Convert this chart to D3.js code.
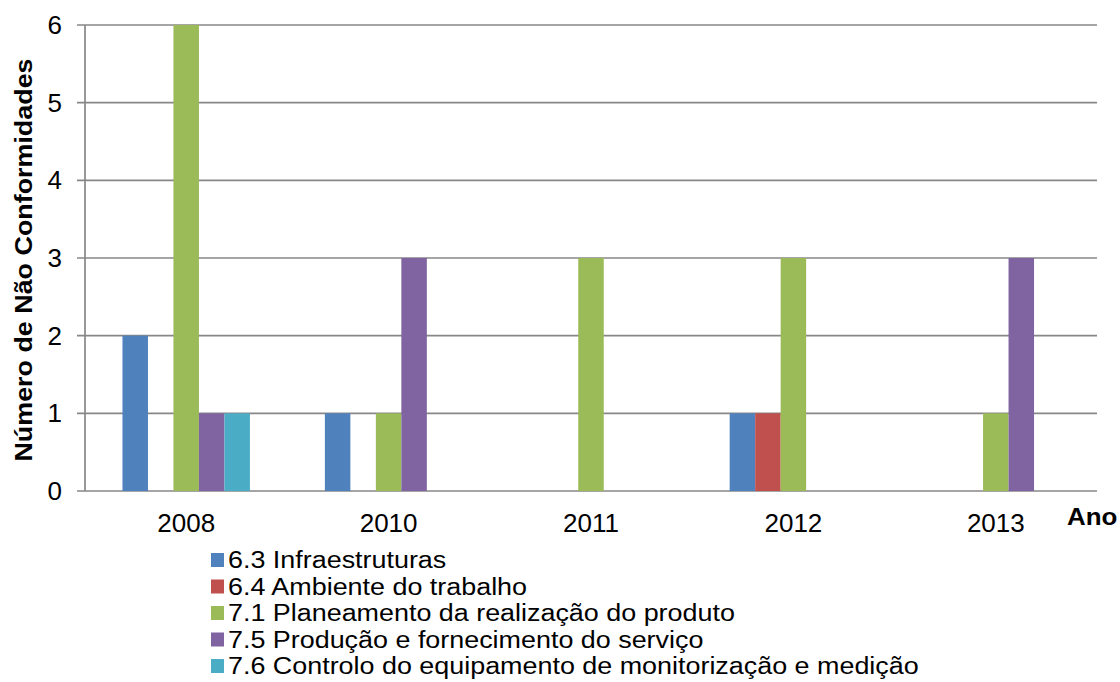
<!DOCTYPE html>
<html>
<head>
<meta charset="utf-8">
<script src="https://cdn.jsdelivr.net/npm/d3@7"></script>
<style>
  body { margin: 0; background: #fff; }
</style>
</head>
<body>
<div id="chart"></div>
<script>
// data
var years = ["2008", "2010", "2011", "2012", "2013"];
var seriesNames = [
	"6.3 Infraestruturas",
	"6.4 Ambiente do trabalho",
	"7.1 Planeamento da realização do produto",
	"7.5 Produção e fornecimento do serviço",
	"7.6 Controlo do equipamento de monitorização e medição"
];
var infraestruturas = [2, 1, 0, 1, 0];
var ambiente = [0, 0, 0, 1, 0];
var planeamento = [6, 1, 3, 3, 1];
var producao = [1, 3, 0, 0, 3];
var controlo = [1, 0, 0, 0, 0];
var yTicks = [0, 1, 2, 3, 4, 5, 6];
var colors = ["#4F81BD", "#C0504D", "#9BBB59", "#8064A2", "#4BACC6"];

var seriesValues = [infraestruturas, ambiente, planeamento, producao, controlo];

var W = 1120, H = 682;
var plot = { left: 85, right: 1097, top: 25, bottom: 491 };
var FONT = "Liberation Sans, Arial, sans-serif";

var svg = d3.select("#chart").append("svg")
	.attr("width", W)
	.attr("height", H)
	.attr("font-family", FONT);

var x0 = d3.scaleBand()
	.domain(years)
	.range([plot.left, plot.right]);

var x1 = d3.scaleBand()
	.domain(d3.range(seriesNames.length))
	.range([0, x0.bandwidth()])
	.paddingInner(0)
	.paddingOuter(1.47);

var y = d3.scaleLinear()
	.domain([0, 6])
	.range([plot.bottom, plot.top]);

// gridlines
svg.append("g").selectAll("line")
	.data(yTicks)
	.enter().append("line")
	.attr("x1", plot.left - 8)
	.attr("x2", plot.right)
	.attr("y1", function(d) { return y(d); })
	.attr("y2", function(d) { return y(d); })
	.attr("stroke", "#878787")
	.attr("stroke-width", 1.7);

// y axis line
svg.append("line")
	.attr("x1", plot.left)
	.attr("x2", plot.left)
	.attr("y1", plot.top)
	.attr("y2", plot.bottom)
	.attr("stroke", "#878787")
	.attr("stroke-width", 1.7);

// y tick labels
svg.append("g").selectAll("text")
	.data(yTicks)
	.enter().append("text")
	.attr("x", 62)
	.attr("y", function(d) { return y(d); })
	.attr("dy", "0.35em")
	.attr("text-anchor", "end")
	.attr("font-size", 26)
	.text(function(d) { return d; });

// bars
var groups = svg.append("g").selectAll("g")
	.data(years)
	.enter().append("g")
	.attr("transform", function(d) { return "translate(" + x0(d) + ",0)"; });

groups.selectAll("rect")
	.data(function(d, i) {
		return seriesValues.map(function(vals, s) { return { s: s, v: vals[i] }; })
			.filter(function(d) { return d.v > 0; });
	})
	.enter().append("rect")
	.attr("x", function(d) { return x1(d.s); })
	.attr("width", x1.bandwidth())
	.attr("y", function(d) { return y(d.v); })
	.attr("height", function(d) { return y(0) - y(d.v); })
	.attr("fill", function(d) { return colors[d.s]; });

// category labels
svg.append("g").selectAll("text")
	.data(years)
	.enter().append("text")
	.attr("x", function(d) { return x0(d) + x0.bandwidth() / 2; })
	.attr("y", 523)
	.attr("dy", "0.35em")
	.attr("text-anchor", "middle")
	.attr("font-size", 26)
	.text(function(d) { return d; });

// axis titles
svg.append("text")
	.attr("transform", "translate(1067,517) scale(1.08,1)")
	.attr("dy", "0.35em")
	.attr("font-size", 24)
	.attr("font-weight", "bold")
	.text("Ano");

svg.append("text")
	.attr("transform", "translate(32," + ((plot.top + plot.bottom) / 2 + 2) + ") rotate(-90) scale(1.12,1)")
	.attr("text-anchor", "middle")
	.attr("font-size", 24)
	.attr("font-weight", "bold")
	.text("Número de Não Conformidades");

// legend
var legend = svg.append("g").selectAll("g")
	.data(seriesNames)
	.enter().append("g")
	.attr("transform", function(d, i) { return "translate(211," + (560 + i * 26.5) + ")"; });

legend.append("rect")
	.attr("x", 0)
	.attr("y", -7)
	.attr("width", 13)
	.attr("height", 14)
	.attr("fill", function(d, i) { return colors[i]; });

legend.append("text")
	.attr("transform", "translate(17,0) scale(1.17,1)")
	.attr("dy", "0.35em")
	.attr("font-size", 23)
	.text(function(d) { return d; });
</script>
</body>
</html>
